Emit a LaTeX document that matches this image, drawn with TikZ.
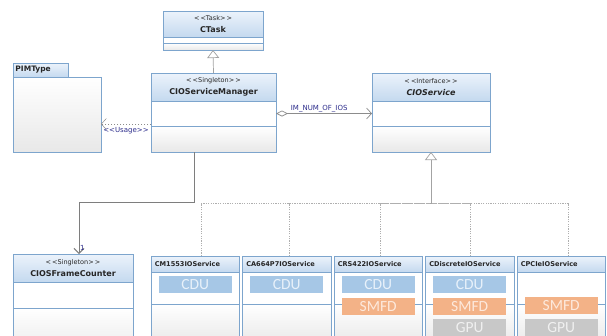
\documentclass[tikz,border=0pt]{standalone}
\usepackage{fontspec}
\setmainfont{DejaVu Sans}
\newfontfamily\tagfont{Carlito}
\usepackage{xcolor}
\usepackage{tikz}
\usetikzlibrary{arrows.meta,positioning}
\definecolor{boxblue}{RGB}{125,165,205}
\definecolor{hdtop}{RGB}{236,243,251}
\definecolor{hdbot}{RGB}{196,217,239}
\definecolor{linegray}{RGB}{140,140,140}
\definecolor{dotgray}{RGB}{175,175,175}
\definecolor{lblblue}{RGB}{45,45,140}
\definecolor{cdufill}{RGB}{166,199,230}
\definecolor{cdutext}{RGB}{232,241,250}
\definecolor{smfdfill}{RGB}{243,178,135}
\definecolor{smfdtext}{RGB}{253,233,220}
\definecolor{gpufill}{RGB}{200,200,200}
\definecolor{gputext}{RGB}{240,240,240}
\newcommand{\stereo}[1]{{\fontsize{6.5}{8}\selectfont\mdseries <\,<#1>\,>}}

\begin{document}
\begin{tikzpicture}[
    x=1pt,y=-1pt,
    hdr/.style={draw=boxblue,top color=hdtop,bottom color=hdbot,inner sep=0pt,outer sep=0pt,align=center,font=\fontsize{8}{12}\selectfont\bfseries,text=black!85},
    cmp/.style={draw=boxblue,fill=white,inner sep=0pt,outer sep=0pt},
    cmpend/.style={draw=boxblue,top color=white,middle color=white,bottom color=black!9,inner sep=0pt,outer sep=0pt},
    iohdr/.style={hdr,anchor=north west,minimum width=88.5pt,minimum height=16pt,text width=81pt,align=left,font=\fontsize{6.6}{7}\selectfont\bfseries},
    tag/.style={minimum width=73pt,minimum height=17pt,inner sep=0pt,font=\tagfont\fontsize{15.5}{16}\selectfont},
    cdu/.style={tag,fill=cdufill,text=cdutext},
    smfd/.style={tag,fill=smfdfill,text=smfdtext},
    gpu/.style={tag,fill=gpufill,text=gputext},
    lbl/.style={font=\fontsize{7}{8}\selectfont,text=lblblue,inner sep=1pt},
    gen/.style={draw=linegray!80,line width=0.7pt,-{Triangle[open,length=8pt,width=12pt]}},
    real/.style={draw=dotgray,line width=0.8pt,dash pattern=on 1.2pt off 1.2pt},
    dep/.style={draw=linegray,line width=0.5pt,dash pattern=on 1.5pt off 1.5pt,-{Straight Barb[length=5pt,width=11pt]}},
    agg/.style={draw=linegray,line width=0.7pt,{Diamond[open,length=12pt,width=6pt]}-{Straight Barb[length=5pt,width=11pt]}},
    assoc/.style={draw=linegray!90!black,line width=1pt,-{Straight Barb[length=5pt,width=10pt]}}
]
\useasboundingbox (0,0) rectangle (607,335);
\fill[white] (0,0) rectangle (607,335);
\clip (0,0) rectangle (607,335);

% CTask
\node[hdr,anchor=north,minimum width=100pt,minimum height=26pt] (ctask) at (213,11) {\stereo{Task}\\CTask};
\node[cmp,below=0pt of ctask,minimum width=100pt,minimum height=6pt] (ctask-c1) {};
\node[cmpend,below=0pt of ctask-c1,minimum width=100pt,minimum height=7pt] (ctask-c2) {};

% PIMType package
\node[hdr,anchor=north west,minimum width=55pt,minimum height=14pt,text width=50pt,align=left,font=\fontsize{7.5}{9}\selectfont\bfseries] (pim-tab) at (13,63) {PIMType};
\node[cmpend,anchor=north west,minimum width=88pt,minimum height=75pt] (pim) at (13,77) {};

% CIOServiceManager
\node[hdr,anchor=north,minimum width=125pt,minimum height=28pt] (mgr) at (213.5,73) {\stereo{Singleton}\\CIOServiceManager};
\node[cmp,below=0pt of mgr,minimum width=125pt,minimum height=25pt] (mgr-c1) {};
\node[cmpend,below=0pt of mgr-c1,minimum width=125pt,minimum height=26pt] (mgr-c2) {};

% CIOService
\node[hdr,anchor=north west,minimum width=118pt,minimum height=28pt] (svc) at (372,73) {\stereo{Interface}\\\itshape CIOService};
\node[cmp,below=0pt of svc,minimum width=118pt,minimum height=25pt] (svc-c1) {};
\node[cmpend,below=0pt of svc-c1,minimum width=118pt,minimum height=26pt] (svc-c2) {};

% CIOSFrameCounter
\node[hdr,anchor=north west,minimum width=120pt,minimum height=28pt] (fc) at (13,254) {\stereo{Singleton}\\CIOSFrameCounter};
\node[cmp,below=0pt of fc,minimum width=120pt,minimum height=26pt] (fc-c1) {};
\node[cmpend,below=0pt of fc-c1,minimum width=120pt,minimum height=50pt] (fc-c2) {};

% IO services
\node[iohdr] (b1) at (151,256) {CM1553IOService};
\node[iohdr,right=3pt of b1] (b2) {CA664P7IOService};
\node[iohdr,right=3pt of b2] (b3) {CRS422IOService};
\node[iohdr,right=3pt of b3] (b4) {CDiscreteIOService};
\node[iohdr,right=3pt of b4] (b5) {CPCIeIOService};

\node[cmp,below=0pt of b1,minimum width=88.5pt,minimum height=32pt] (b1-c1) {};
\node[cmpend,below=0pt of b1-c1,minimum width=88.5pt,minimum height=41pt] (b1-c2) {};
\node[cmp,below=0pt of b2,minimum width=88.5pt,minimum height=32pt] (b2-c1) {};
\node[cmpend,below=0pt of b2-c1,minimum width=88.5pt,minimum height=41pt] (b2-c2) {};
\node[cmp,below=0pt of b3,minimum width=88.5pt,minimum height=32pt] (b3-c1) {};
\node[cmpend,below=0pt of b3-c1,minimum width=88.5pt,minimum height=41pt] (b3-c2) {};
\node[cmp,below=0pt of b4,minimum width=88.5pt,minimum height=32pt] (b4-c1) {};
\node[cmpend,below=0pt of b4-c1,minimum width=88.5pt,minimum height=41pt] (b4-c2) {};
\node[cmp,below=0pt of b5,minimum width=88.5pt,minimum height=32pt] (b5-c1) {};
\node[cmpend,below=0pt of b5-c1,minimum width=88.5pt,minimum height=41pt] (b5-c2) {};

% Units
\node[cdu,below=4pt of b1] (b1-cdu) {CDU};
\node[cdu,below=4pt of b2] (b2-cdu) {CDU};
\node[cdu,below=4pt of b3] (b3-cdu) {CDU};
\node[smfd,below=4pt of b3-cdu] (b3-smfd) {SMFD};
\node[cdu,below=4pt of b4] (b4-cdu) {CDU};
\node[smfd,below=4pt of b4-cdu] (b4-smfd) {SMFD};
\node[gpu,below=4pt of b4-smfd] (b4-gpu) {GPU};
\node[smfd,below=25pt of b5] (b5-smfd) {SMFD};
\node[gpu,below=4pt of b5-smfd] (b5-gpu) {GPU};

% Relations
\draw[gen] (mgr.north) -- (ctask-c2.south);

\coordinate (u) at ([yshift=2pt]mgr-c1.south west);
\draw[dep] (u) -- node[below=2pt,lbl] {<{}<Usage>{}>} (u -| pim.east);

\draw[agg] (mgr-c1.east) -- node[above,pos=0.45,lbl] {IM\_NUM\_OF\_IOS} (svc-c1.west);

\coordinate (bend) at (194,202);
\draw[assoc] (mgr-c2.south -| bend) -- (bend) -| ([xshift=6pt]fc.north);
\node[lbl,anchor=south west] at ([xshift=6pt,yshift=2pt]fc.north) {1};

\coordinate (trunk) at (430,203);
\draw[real] ([xshift=6pt]b1.north) |- (trunk);
\draw[real] ([xshift=3pt]b2.north) |- (trunk);
\draw[real] ([xshift=2pt]b3.north) |- (trunk);
\draw[real] ([xshift=1pt]b4.north) |- (trunk);
\draw[real] ([xshift=7pt]b5.north) |- (trunk);
\draw[gen] (trunk) -- (svc-c2.south |- trunk) -- (svc-c2.south);

\end{tikzpicture}
\end{document}
